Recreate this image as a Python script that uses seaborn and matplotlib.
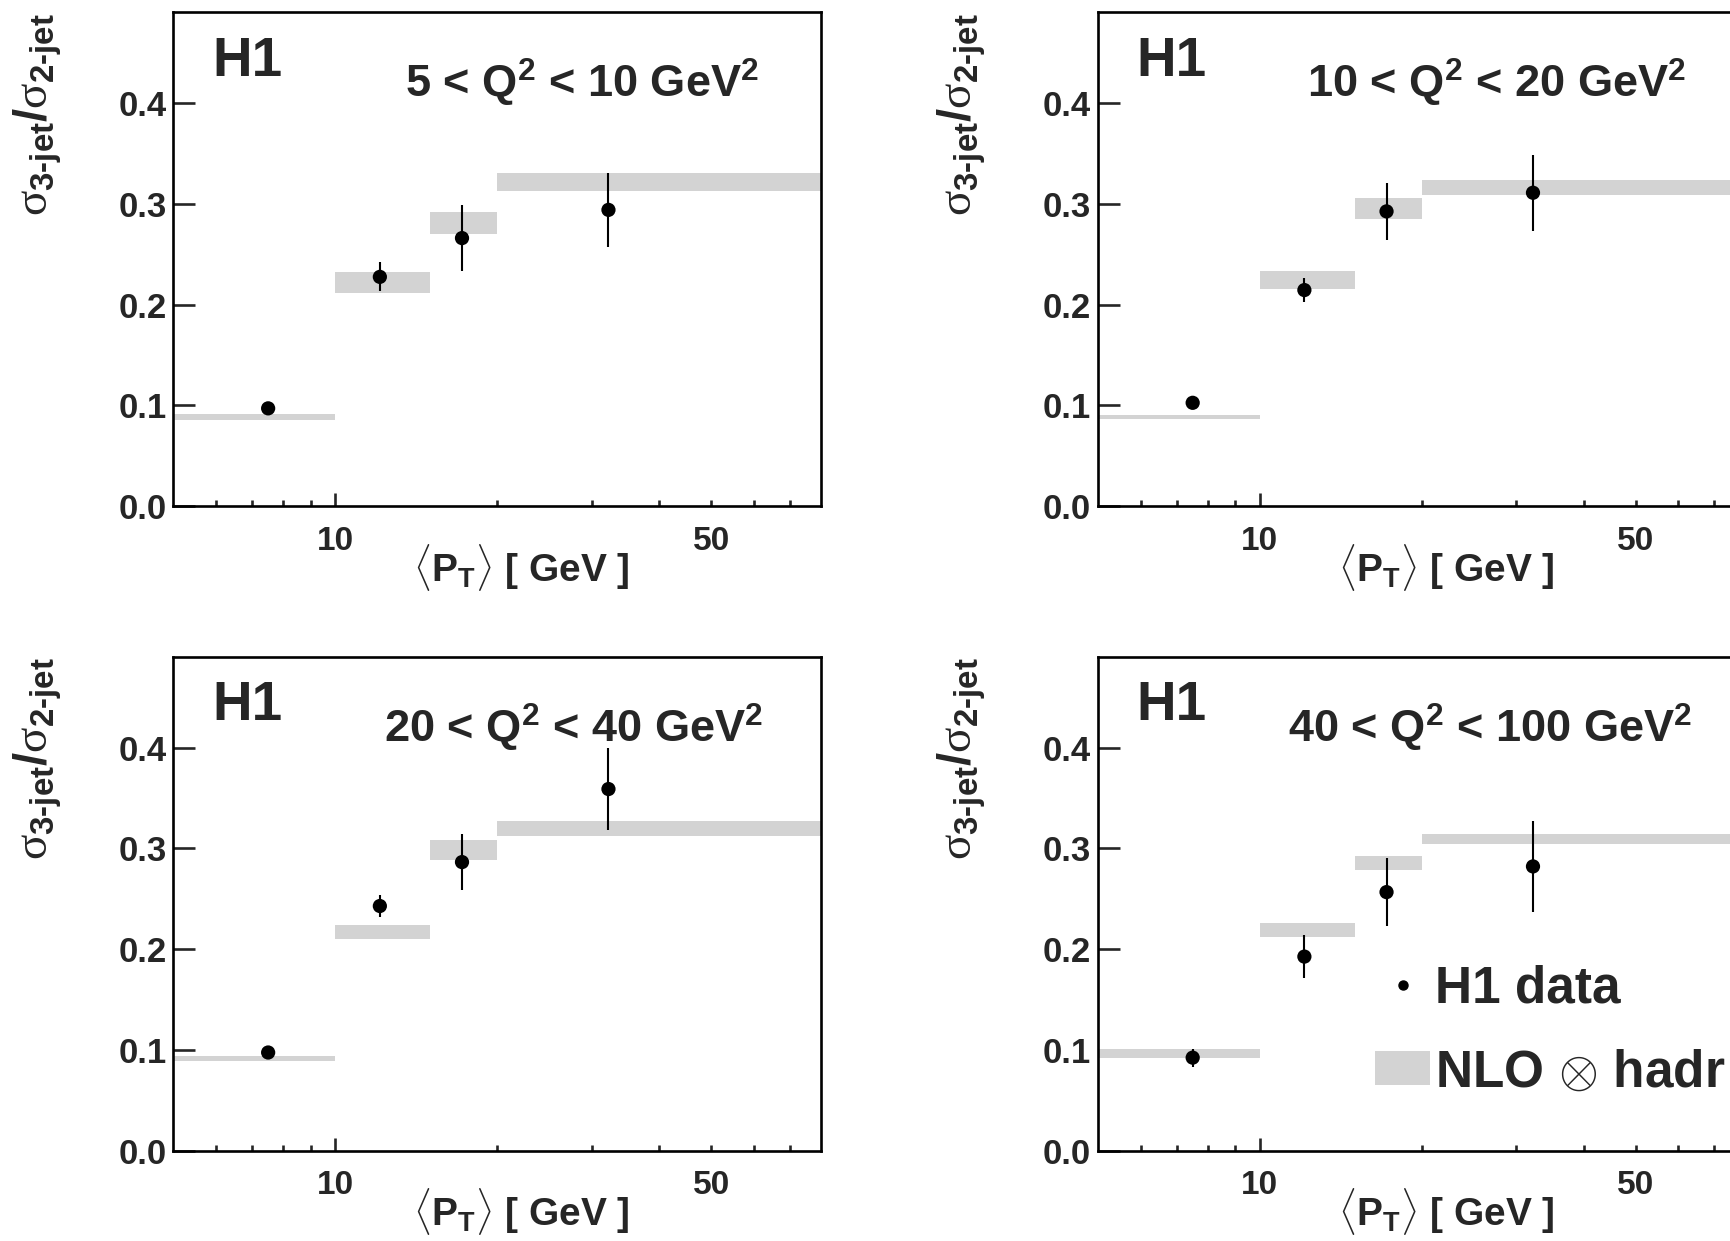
import numpy as np
import pandas as pd
import matplotlib
matplotlib.use("Agg")
import matplotlib.pyplot as plt
import seaborn as sns
from matplotlib.ticker import FixedLocator, FuncFormatter
from matplotlib.lines import Line2D
from matplotlib.patches import Patch

# ---------------- data ----------------
pt_mean = [7.5, 12.1, 17.2, 32.2]          # <P_T> of data points [GeV]
bin_edges = [5, 10, 15, 20, 80]            # NLO bins [GeV]

q2_labels = ["5 < Q$^2$ < 10 GeV$^2$", "10 < Q$^2$ < 20 GeV$^2$",
             "20 < Q$^2$ < 40 GeV$^2$", "40 < Q$^2$ < 100 GeV$^2$"]

data_p1 = [0.097, 0.2275, 0.266, 0.294]
err_p1 = [0.003, 0.0145, 0.033, 0.037]
nlo_p1 = [0.0885, 0.2217, 0.281, 0.322]
nlo_err_p1 = [0.003, 0.0104, 0.011, 0.009]

data_p2 = [0.1025, 0.2144, 0.2925, 0.311]
err_p2 = [0.003, 0.0115, 0.0285, 0.0377]
nlo_p2 = [0.0884, 0.2246, 0.2958, 0.3165]
nlo_err_p2 = [0.002, 0.009, 0.0104, 0.0075]

data_p3 = [0.0973, 0.2427, 0.2863, 0.3588]
err_p3 = [0.005, 0.011, 0.0275, 0.041]
nlo_p3 = [0.0916, 0.217, 0.2984, 0.320]
nlo_err_p3 = [0.0025, 0.007, 0.0098, 0.0075]

data_p4 = [0.0922, 0.1925, 0.2565, 0.282]
err_p4 = [0.009, 0.021, 0.034, 0.045]
nlo_p4 = [0.0963, 0.2186, 0.2858, 0.3096]
nlo_err_p4 = [0.0045, 0.007, 0.007, 0.005]

y_ticks = [0.0, 0.1, 0.2, 0.3, 0.4]
y_ticklabels = ["0.0", "0.1", "0.2", "0.3", "0.4"]
x_major = [10]
x_minor = [6, 7, 8, 9, 20, 30, 40, 50, 60, 70]
legend_labels = ["H1 data", r"NLO$\,\otimes\,$hadr"]

# ---------------- style ----------------
sns.set_theme(style="white")
plt.rcParams["font.family"] = ["Liberation Sans", "DejaVu Sans"]
plt.rcParams["font.weight"] = "bold"
plt.rcParams["mathtext.fontset"] = "custom"
plt.rcParams["mathtext.rm"] = "Liberation Sans:bold"
plt.rcParams["mathtext.bf"] = "Liberation Sans:bold"
plt.rcParams["mathtext.it"] = "Liberation Serif:weight=normal"
plt.rcParams["mathtext.default"] = "rm"
plt.rcParams["mathtext.fallback"] = "cm"
plt.rcParams["axes.linewidth"] = 1.9

band_color = "#d3d3d3"

fig = plt.figure(figsize=(17.31, 12.41), dpi=100)

W, H = 0.3741, 0.3978
positions = [(0.1002, 0.5922), (0.6343, 0.5922), (0.1002, 0.0729), (0.6343, 0.0729)]
q2_right = [0.905, 0.909, 0.910, 0.918]

panels = [(data_p1, err_p1, nlo_p1, nlo_err_p1),
          (data_p2, err_p2, nlo_p2, nlo_err_p2),
          (data_p3, err_p3, nlo_p3, nlo_err_p3),
          (data_p4, err_p4, nlo_p4, nlo_err_p4)]

edges = np.array(bin_edges, dtype=float)

for i, (dat, err, nlo, nerr) in enumerate(panels):
    ax = fig.add_axes([positions[i][0], positions[i][1], W, H])
    ax.set_xscale("log")

    nlo = np.array(nlo)
    nerr = np.array(nerr)
    ax.bar(edges[:-1], 2 * nerr, bottom=nlo - nerr, width=np.diff(edges),
           align="edge", color=band_color, linewidth=0, zorder=1)

    ax.errorbar(pt_mean, dat, yerr=err, fmt="none", ecolor="black",
                elinewidth=1.5, capsize=0, zorder=2)
    df = pd.DataFrame({"pt": pt_mean, "ratio": dat})
    sns.scatterplot(data=df, x="pt", y="ratio", ax=ax, color="black", s=105,
                    edgecolor="none", zorder=3, legend=False)

    ax.set_xlim(5, 80)
    ax.set_ylim(0, 0.49)
    ax.set_xlabel("")
    ax.set_ylabel("")

    ax.set_yticks(y_ticks)
    ax.set_yticklabels(y_ticklabels)
    ax.xaxis.set_major_locator(FixedLocator(x_major))
    ax.xaxis.set_major_formatter(FuncFormatter(lambda v, p: "%d" % round(v)))
    ax.xaxis.set_minor_locator(FixedLocator(x_minor))
    ax.xaxis.set_minor_formatter(
        FuncFormatter(lambda v, p: "50" if abs(v - 50) < 1e-6 else ""))

    ax.tick_params(axis="y", which="major", direction="in", length=15.6,
                   width=1.9, labelsize=25, pad=5.0, left=True, right=False)
    ax.tick_params(axis="y", which="minor", left=False, right=False)
    ax.tick_params(axis="x", which="major", direction="in", length=9.6,
                   width=1.9, labelsize=24, pad=14.0, bottom=True, top=False)
    ax.tick_params(axis="x", which="minor", direction="in", length=4.3,
                   width=1.9, labelsize=24, pad=14.0, bottom=True, top=False)
    for lab in ax.get_xticklabels(which="both") + ax.get_yticklabels():
        lab.set_fontweight("bold")

    for s in ax.spines.values():
        s.set_linewidth(1.9)
        s.set_color("black")

    ax.text(0.06, 0.872, "H1", transform=ax.transAxes, fontsize=39.5,
            fontweight="bold", va="baseline", ha="left")
    ax.text(q2_right[i], 0.827, q2_labels[i], transform=ax.transAxes,
            fontsize=32.5, fontweight="bold", va="baseline", ha="right")

    ax.text(-0.195, 0.999,
            r"$\mathit{\sigma}_{\text{3-jet}}$/$\mathit{\sigma}_{\text{2-jet}}$",
            transform=ax.transAxes, rotation=90, rotation_mode="anchor",
            ha="right", va="baseline", fontsize=34, fontweight="bold")
    ax.text(0.705, -0.152, r"$\langle\text{P}_{\text{T}}\rangle$ [ GeV ]",
            transform=ax.transAxes, ha="right", va="baseline",
            fontsize=28, fontweight="bold")

    if i == 3:
        handles = [Line2D([], [], marker="o", linestyle="none", color="black",
                          markersize=6.5),
                   Patch(facecolor=band_color, edgecolor="none")]
        ax.legend(handles, legend_labels, loc="upper left",
                  bbox_to_anchor=(0.428, 0.376), frameon=False,
                  borderaxespad=0, borderpad=0,
                  handlelength=1.07, handleheight=0.64, handletextpad=0.1,
                  labelspacing=0.67, prop={"weight": "bold", "size": 37})

fig.savefig("out.png", dpi=100)
